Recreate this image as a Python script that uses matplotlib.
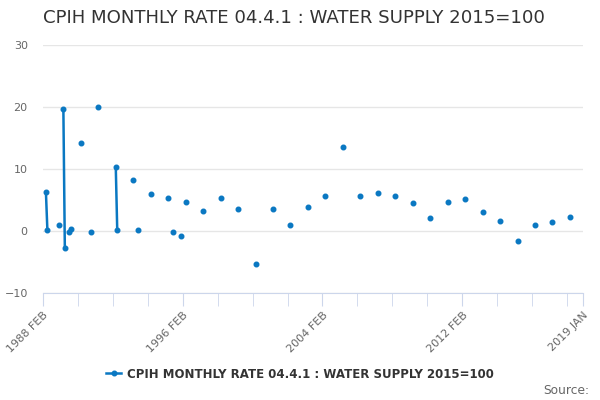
import numpy as np
import matplotlib
matplotlib.use("Agg")
import matplotlib.pyplot as plt

title = "CPIH MONTHLY RATE 04.4.1 : WATER SUPPLY 2015=100"
series_name = "CPIH MONTHLY RATE 04.4.1 : WATER SUPPLY 2015=100"

start_year, start_month = 1988, 2   # 1988 FEB
end_year, end_month = 2019, 1       # 2019 JAN
mon_names = ["JAN", "FEB", "MAR", "APR", "MAY", "JUN", "JUL", "AUG", "SEP", "OCT", "NOV", "DEC"]

obs_months = ["1988 APR", "1988 MAY", "1989 JAN", "1989 APR", "1989 MAY", "1989 AUG", "1989 SEP",
              "1990 APR", "1990 NOV", "1991 APR", "1992 APR", "1992 MAY", "1993 APR", "1993 JUL",
              "1994 APR", "1995 APR", "1995 JUL", "1996 JAN", "1996 APR", "1997 APR", "1998 APR",
              "1999 APR", "2000 APR", "2001 APR", "2002 APR", "2003 APR", "2004 APR", "2005 APR",
              "2006 APR", "2007 APR", "2008 APR", "2009 APR", "2010 APR", "2011 APR", "2012 APR",
              "2013 APR", "2014 APR", "2015 APR", "2016 APR", "2017 APR", "2018 APR"]
obs_values = [6.3, 0.2, 1.0, 19.7, -2.8, -0.1, 0.4,
              14.2, -0.15, 20.0, 10.3, 0.15, 8.2, 0.15,
              6.0, 5.4, -0.2, -0.8, 4.6, 3.3, 5.4,
              3.5, -5.3, 3.5, 1.0, 3.9, 5.6, 13.6,
              5.7, 6.2, 5.7, 4.5, 2.15, 4.6, 5.2,
              3.1, 1.65, -1.6, 0.95, 1.45, 2.25]

tick_labels = ["1988 FEB", "1996 FEB", "2004 FEB", "2012 FEB", "2019 JAN"]
y_ticks = [-10, 0, 10, 20, 30]

def month_index(label):
    y, m = label.split()
    return (int(y) - start_year) * 12 + mon_names.index(m) + 1 - start_month

n = month_index(f"{end_year} {mon_names[end_month-1]}") + 1
full = np.full(n, np.nan)
for lab, v in zip(obs_months, obs_values):
    full[month_index(lab)] = v
x = np.arange(n)

color = "#0a78c2"
fig = plt.figure(figsize=(6, 4), dpi=100)
ax = fig.add_axes([43/600, 1-293/400, 540/600, 248/400])
line, = ax.plot(x, full, color=color, lw=1.8, marker="o", ms=3.3, mec=color, mfc=color)

ax.set_xlim(0, n - 1)
ax.set_ylim(-10, 30)
ax.set_yticks(y_ticks)
ax.yaxis.grid(True, color="#e6e6e6", lw=1)
ax.set_axisbelow(True)
for s in ["top", "right", "left"]:
    ax.spines[s].set_visible(False)
ax.spines["bottom"].set_color("#ccd6eb")
ax.tick_params(axis="y", length=0, labelsize=8, labelcolor="#666666", pad=11)

major = [month_index(t) for t in tick_labels]
minor = list(range(0, n, 24)) + [n - 1]
ax.set_xticks(minor, minor=True)
ax.set_xticks(major)
ax.set_xticklabels(tick_labels, rotation=45, ha="right", rotation_mode="anchor")
ax.tick_params(axis="x", which="both", length=9, color="#ccd6eb", labelsize=8, labelcolor="#666666")

fig.text(43/600, 1-18/400, title, fontsize=13.1, color="#333333", va="center", ha="left")
fig.legend([line], [series_name], loc="center", bbox_to_anchor=(0.5, 1-374/400),
           frameon=False, prop={"weight": "bold", "size": 8.5}, handlelength=1.3,
           labelcolor="#333333", handletextpad=0.5)
fig.text(589/600, 1-390/400, "Source:", fontsize=8.8, color="#666666", ha="right", va="center")

fig.savefig("out.png", dpi=100)
